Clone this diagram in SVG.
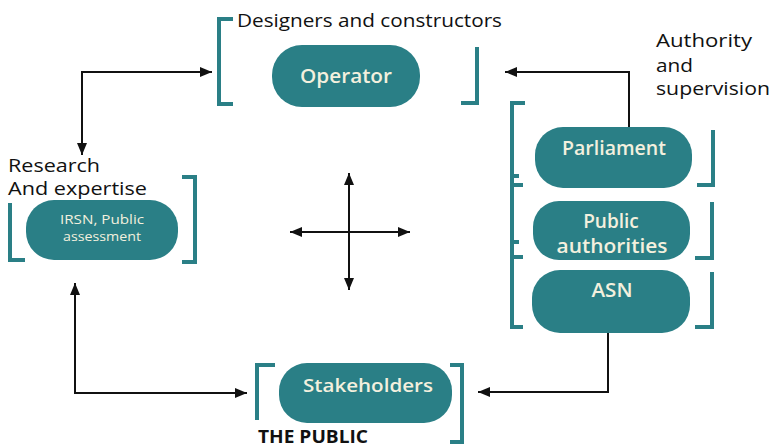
<svg xmlns="http://www.w3.org/2000/svg" width="774" height="448" viewBox="0 0 774 448">
<style>
.box{fill:#2a7f86}
.br{fill:none;stroke:#2a7f86;stroke-width:4}
.lbl{font-family:"Open Sans","DejaVu Sans",sans-serif;fill:#f3f0de;font-weight:600}
.sm{font-family:"Open Sans","DejaVu Sans",sans-serif;fill:#f3f0de;font-size:12px}
.cap{font-family:"Open Sans","DejaVu Sans",sans-serif;fill:#111;font-size:18px}
.con{fill:none;stroke:#111;stroke-width:2}
</style>
<defs>
<marker id="ah" viewBox="0 0 12 10" refX="12" refY="5" markerWidth="12" markerHeight="10" markerUnits="userSpaceOnUse" orient="auto-start-reverse">
<path d="M0,0 L12,5 L0,10 z" fill="#111"/>
</marker>
</defs>
<rect width="774" height="448" fill="#fff"/>
<g id="connectors">
<path class="con" d="M82,155 V72 H212" marker-start="url(#ah)" marker-end="url(#ah)"/>
<path class="con" d="M629,127 V72 H505" marker-end="url(#ah)"/>
<path class="con" d="M608,333 V392 H478" marker-end="url(#ah)"/>
<path class="con" d="M75,283 V393 H247" marker-start="url(#ah)" marker-end="url(#ah)"/>
<path class="con" d="M349,173 V290" marker-start="url(#ah)" marker-end="url(#ah)"/>
<path class="con" d="M290,232 H410" marker-start="url(#ah)" marker-end="url(#ah)"/>
</g>
<g id="operator">
<path class="br" d="M233,19 H219 V104 H233"/>
<path class="br" d="M477,47 V103 H461"/>
<rect class="box" x="272" y="45" width="148" height="62" rx="30"/>
<text class="lbl" x="346" y="83" font-size="19" text-anchor="middle" textLength="92" lengthAdjust="spacingAndGlyphs">Operator</text>
<text class="cap" x="237" y="27" textLength="265" lengthAdjust="spacingAndGlyphs">Designers and constructors</text>
</g>
<g id="authority-label">
<text class="cap" x="656" y="47" textLength="96" lengthAdjust="spacingAndGlyphs">Authority</text>
<text class="cap" x="656" y="72" textLength="37" lengthAdjust="spacingAndGlyphs">and</text>
<text class="cap" x="656" y="95" textLength="114" lengthAdjust="spacingAndGlyphs">supervision</text>
</g>
<g id="irsn">
<path class="br" d="M10,203 V260 H25"/>
<path class="br" d="M182,177 H195 V262 H182"/>
<rect class="box" x="26" y="200" width="152" height="60" rx="28"/>
<text class="sm" x="102" y="224" text-anchor="middle" textLength="84" lengthAdjust="spacingAndGlyphs">IRSN, Public</text>
<text class="sm" x="102" y="241" text-anchor="middle" textLength="78" lengthAdjust="spacingAndGlyphs">assessment</text>
<text class="cap" x="8" y="172" textLength="92" lengthAdjust="spacingAndGlyphs">Research</text>
<text class="cap" x="8" y="195" textLength="139" lengthAdjust="spacingAndGlyphs">And expertise</text>
</g>
<g id="authorities-bracket">
<path class="br" d="M525,103 H512 V327 H523 M512,176 H519 M512,185 H523 M512,242 H519 M512,257 H523"/>
</g>
<g id="parliament">
<path class="br" d="M713,130 V185 H697"/>
<rect class="box" x="535" y="127" width="157" height="61" rx="28"/>
<text class="lbl" x="614" y="155" font-size="19" text-anchor="middle" textLength="104" lengthAdjust="spacingAndGlyphs">Parliament</text>
</g>
<g id="public-authorities">
<path class="br" d="M712,202 V258 H695"/>
<rect class="box" x="533" y="201" width="157" height="59" rx="26"/>
<text class="lbl" x="611" y="228" font-size="19" text-anchor="middle">Public</text>
<text class="lbl" x="612" y="253" font-size="19" text-anchor="middle" textLength="111" lengthAdjust="spacingAndGlyphs">authorities</text>
</g>
<g id="asn">
<path class="br" d="M712,272 V327 H695"/>
<rect class="box" x="532" y="270" width="158" height="63" rx="28"/>
<text class="lbl" x="612" y="297" font-size="19" text-anchor="middle" textLength="41" lengthAdjust="spacingAndGlyphs">ASN</text>
</g>
<g id="stakeholders">
<path class="br" d="M275,365 H257 V420"/>
<path class="br" d="M450,365 H462 V442 H450"/>
<rect class="box" x="279" y="363" width="173" height="60" rx="28"/>
<text class="lbl" x="368" y="392" font-size="18" text-anchor="middle" textLength="130" lengthAdjust="spacingAndGlyphs">Stakeholders</text>
<text class="cap" x="258" y="443" font-size="17" font-weight="bold" textLength="110" lengthAdjust="spacingAndGlyphs">THE PUBLIC</text>
</g>
</svg>
